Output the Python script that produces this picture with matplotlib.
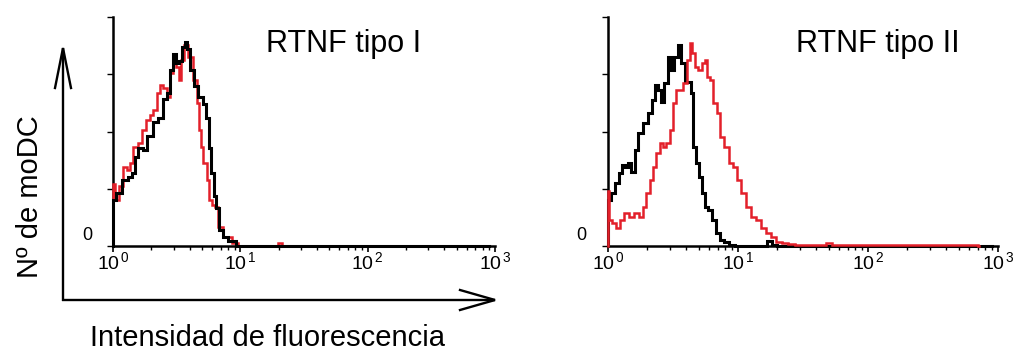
import matplotlib
matplotlib.use('Agg')
import matplotlib.pyplot as plt
from matplotlib.ticker import LogLocator, NullFormatter, FixedLocator

plt.rcParams['font.family'] = ['Liberation Sans', 'DejaVu Sans']
plt.rcParams['mathtext.fontset'] = 'custom'
plt.rcParams['mathtext.rm'] = 'Liberation Sans'
plt.rcParams['mathtext.it'] = 'Liberation Sans:italic'

# ---------------- data (fluorescence intensity, cell count in % of axis) -------------
titles = ["RTNF tipo I", "RTNF tipo II"]
xlabel = "Intensidad de fluorescencia"
ylabel = "Nº de moDC"
xtick_values = [1, 10, 100, 1000]
xtick_labels = [r"$\mathregular{10^{\,0}}$", r"$\mathregular{10^{\,1}}$",
                r"$\mathregular{10^{\,2}}$", r"$\mathregular{10^{\,3}}$"]
ytick_values = [0, 25, 50, 75, 100]

# Panel 1 (tipo I) - black (control)
p1_black_x = [1.00, 1.00, 1.10, 1.24, 1.36, 1.44, 1.53, 1.63, 1.78, 1.95, 2.14, 2.34,
              2.56, 2.72, 2.89, 3.01, 3.20, 3.36, 3.56, 3.74, 3.91, 4.15, 4.54, 4.82,
              5.28, 5.51, 5.78, 6.07, 6.32, 6.59, 6.93, 7.59, 8.55, 9.95, 900]
p1_black_y = [0, 20, 23, 29, 30, 32, 39, 43, 42, 48, 54, 56,
              64, 67, 77, 84, 80, 81, 87, 89, 86, 77, 70, 65,
              62, 56, 43, 32, 22, 16.5, 7, 4, 2, 0, 0]
# Panel 1 (tipo I) - red
p1_red_x = [1.00, 1.00, 1.07, 1.17, 1.24, 1.32, 1.40, 1.49, 1.63, 1.73, 1.89, 2.01,
            2.14, 2.27, 2.38, 2.56, 2.72, 2.89, 3.01, 3.20, 3.36, 3.53, 3.74, 4.03,
            4.41, 4.68, 4.82, 4.98, 5.28, 5.61, 5.78, 6.14, 6.53, 6.93, 7.82, 9.38,
            9.95, 19.0, 20.5, 22.0]
p1_red_y = [0, 27, 20, 26, 34.6, 33.2, 36.1, 43.4, 44.8, 50.7, 55.0, 57.2,
            59.4, 66.7, 70.3, 68.9, 65.2, 75.5, 81.2, 78.3, 72.5, 81.2, 87.8, 82.7,
            72.5, 62.3, 50.7, 43.4, 36.1, 28.8, 20.1, 17.9, 17.2, 8.4, 4.1, 1.2,
            0, 0, 1.2, 0]

# Panel 2 (tipo II) - black (control)
p2_black_x = [1.00, 1.00, 1.10, 1.17, 1.24, 1.31, 1.39, 1.48, 1.55, 1.66, 1.76, 1.93,
              2.10, 2.23, 2.37, 2.51, 2.64, 2.79, 3.00, 3.14, 3.33, 3.54, 3.75, 4.03,
              4.23, 4.41, 4.59, 4.86, 5.16, 5.41, 5.74, 6.10, 6.46, 7.06, 7.48, 8.18,
              8.93, 10.0, 15.8, 17.4, 19.0, 21.0, 900]
p2_black_y = [0, 20.1, 23.0, 27.4, 31.7, 35.4, 34.6, 36.1, 32.4, 41.9, 49.2, 53.6,
              57.9, 63.8, 70.3, 68.1, 63.0, 71.0, 82.7, 76.9, 82.7, 87.8, 79.8, 71.8,
              71.8, 66.7, 43.4, 36.1, 30.3, 23.0, 17.2, 15.7, 11.4, 5.5, 2.6, 1.9,
              0.4, 0, 0, 2.0, 0.5, 0, 0]
# Panel 2 (tipo II) - red
p2_red_x = [1.00, 1.00, 1.03, 1.12, 1.19, 1.27, 1.38, 1.51, 1.65, 1.80, 1.91, 2.03,
            2.15, 2.29, 2.43, 2.57, 2.73, 2.90, 3.07, 3.26, 3.45, 3.66, 3.89, 4.15,
            4.33, 4.53, 4.81, 5.11, 5.41, 5.68, 5.92, 6.27, 6.65, 7.06, 7.48, 8.18,
            8.93, 9.48, 10.05, 11.0, 12.0, 13.1, 14.3, 15.7, 17.1, 18.7, 20.4, 23.0,
            25.1, 30.0, 45.0, 50.0, 55.0, 100, 300, 700, 710]
p2_red_y = [0, 24, 11.4, 9.9, 7.7, 11.4, 14.3, 12.8, 14.3, 12.8, 17.2, 23.0,
            28.8, 34.6, 40.5, 44.8, 43.4, 44.8, 50.7, 62.3, 68.1, 68.1, 71.0, 81.2,
            88.5, 84.2, 78.3, 76.9, 79.8, 81.2, 74.0, 72.5, 62.3, 57.9, 47.7, 43.4,
            36.1, 34.6, 28.8, 23.0, 17.2, 12.8, 11.4, 7.7, 5.5, 4.1, 1.9, 1.2,
            0.9, 0.6, 0.6, 1.5, 0.6, 0.5, 0.5, 0.5, 0]

RED = '#e3202a'
BLACK = '#000000'

fig = plt.figure(figsize=(10.21, 3.5), dpi=100)
W, H = 1021.0, 350.0

# background axes (pixel coordinates) for the big arrows
bg = fig.add_axes([0, 0, 1, 1], zorder=0)
bg.set_xlim(0, W)
bg.set_ylim(H, 0)
bg.axis('off')

ax1 = fig.add_axes([113 / W, (H - 246) / H, 382 / W, 229 / H], zorder=2)
ax2 = fig.add_axes([608 / W, (H - 246) / H, 390 / W, 229 / H], zorder=2)

panels = [
    (ax1, [(p1_red_x, p1_red_y, RED, 1.8), (p1_black_x, p1_black_y, BLACK, 2.2)]),
    (ax2, [(p2_black_x, p2_black_y, BLACK, 2.2), (p2_red_x, p2_red_y, RED, 1.8)]),
]

for ax, curves in panels:
    ax.patch.set_alpha(0)
    ax.set_xscale('log')
    ax.set_xlim(1, 1000)
    ax.set_ylim(0, 100)
    for s in ['top', 'right']:
        ax.spines[s].set_visible(False)
    for s in ['left', 'bottom']:
        ax.spines[s].set_linewidth(1.8)
    for x, y, c, lw in curves:
        ax.plot(x, y, color=c, lw=lw, clip_on=False, zorder=3,
                drawstyle='steps-mid', solid_joinstyle='miter')
    ax.xaxis.set_major_locator(FixedLocator(xtick_values))
    ax.set_xticklabels(xtick_labels, fontsize=14)
    ax.xaxis.set_minor_locator(LogLocator(base=10, subs=range(2, 10)))
    ax.xaxis.set_minor_formatter(NullFormatter())
    ax.set_yticks(ytick_values)
    ax.set_yticklabels([''] * len(ytick_values))
    ax.tick_params(axis='x', which='major', direction='out', length=4, width=1.2, pad=0)
    ax.tick_params(axis='x', which='minor', direction='out', length=3, width=1.0)
    ax.tick_params(axis='y', which='major', direction='out', length=4, width=1.0)
    ax.text(-0.068, 0.025, '0', transform=ax.transAxes, fontsize=13,
            ha='center', va='baseline')

# titles
fig.text(344 / W, 1 - 52 / H, titles[0], fontsize=22, ha='center', va='baseline')
fig.text(878 / W, 1 - 52 / H, titles[1], fontsize=22, ha='center', va='baseline')

# axis labels
fig.text(267 / W, 1 - 346 / H, xlabel, fontsize=21, ha='center', va='baseline')
fig.text(30 / W, 1 - 197 / H, ylabel, fontsize=21, rotation=90,
         ha='center', va='center')

# large arrows
lw_arrow = 1.7
bg.plot([63, 63], [301, 48], color='black', lw=lw_arrow, solid_capstyle='butt')
bg.plot([55, 63, 71], [88, 48, 88], color='black', lw=lw_arrow, solid_joinstyle='miter')
bg.plot([62, 495], [300, 300], color='black', lw=lw_arrow, solid_capstyle='butt')
bg.plot([460, 495, 460], [290, 300, 310], color='black', lw=lw_arrow, solid_joinstyle='miter')

fig.savefig('out.png', dpi=100)
